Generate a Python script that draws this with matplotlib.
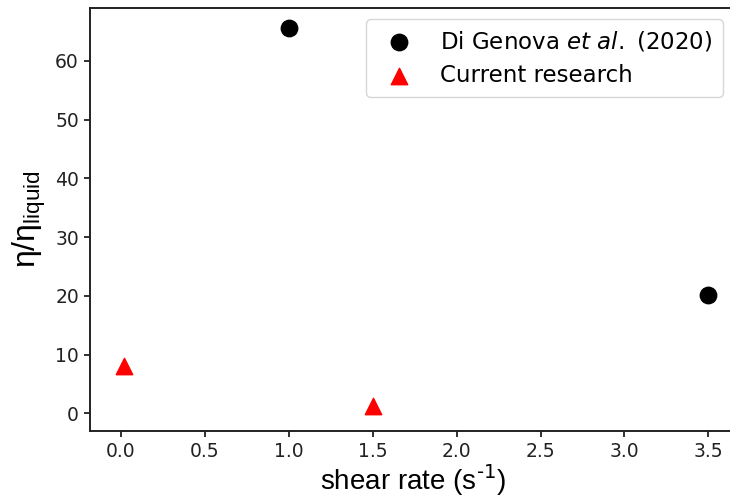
import matplotlib
matplotlib.use("Agg")
import matplotlib.pyplot as plt

digenova_x = [1.0, 3.5]
digenova_y = [65.6, 20.2]
current_x = [0.02, 1.5]
current_y = [8.0, 1.3]
xticks = [0.0, 0.5, 1.0, 1.5, 2.0, 2.5, 3.0, 3.5]
yticks = [0, 10, 20, 30, 40, 50, 60]

fig = plt.figure(figsize=(7.30, 5.03), dpi=100)
ax = fig.add_axes([90/730, 1 - 431/503, (735 - 90)/730, (431 - 8)/503])

ax.scatter(digenova_x, digenova_y, s=140, c='black', marker='o',
           label=r'Di Genova $\it{et\ al.}$ (2020)', zorder=3)
ax.scatter(current_x, current_y, s=140, c='red', marker='^',
           label='Current research', zorder=3)

ax.set_xlim(-0.185, 3.659)
ax.set_ylim(-3, 69)
ax.set_xticks(xticks)
ax.set_yticks(yticks)
ax.tick_params(labelsize=13.5, width=1.3, length=4.5, colors='#222222')
for sp in ax.spines.values():
    sp.set_linewidth(1.4)
    sp.set_color('#222222')

ax.set_xlabel("shear rate (s$^{\\text{-1}}$)", fontsize=20,
              family='Liberation Sans', labelpad=1)
ax.set_ylabel("η/η$_{\\mathregular{liquid}}$", fontsize=23,
              family='Liberation Sans', labelpad=5)

ax.legend(loc='upper right', fontsize=16.5, frameon=True,
          borderpad=0.45, handletextpad=0.8, borderaxespad=0.0,
          labelspacing=0.45,
          bbox_to_anchor=(723/730, 1 - 19/503), bbox_transform=fig.transFigure)

fig.savefig("out.png", dpi=100)
